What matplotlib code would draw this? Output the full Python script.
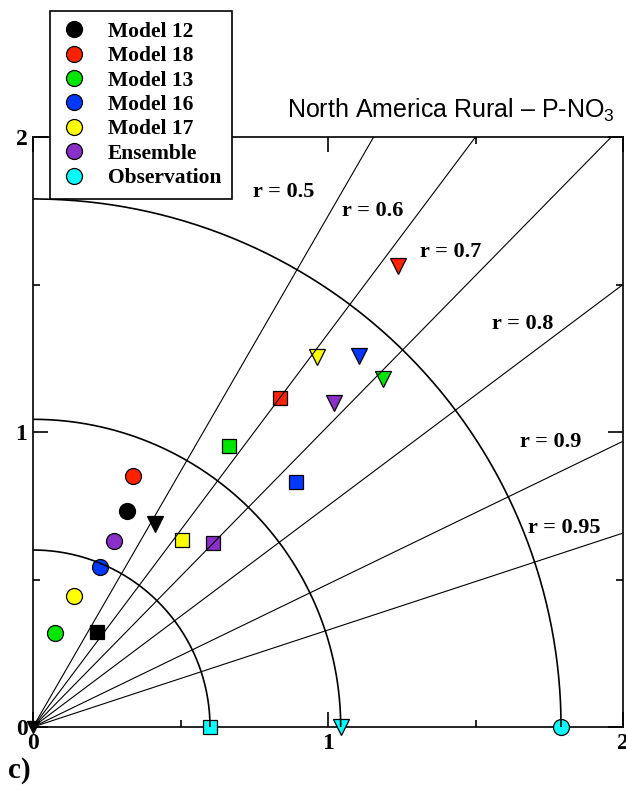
import numpy as np
import matplotlib
matplotlib.use("Agg")
import matplotlib.pyplot as plt
from matplotlib.lines import Line2D

plt.rcParams['mathtext.fontset'] = 'custom'
plt.rcParams['mathtext.rm'] = 'Liberation Sans'
plt.rcParams['mathtext.default'] = 'rm'

# ---------------- data ----------------
models = ["Model 12", "Model 18", "Model 13", "Model 16", "Model 17", "Ensemble", "Observation"]
colors = ["#000000", "#ff2200", "#00e600", "#0038ff", "#ffff00", "#8b2fc9", "#00ffff"]

# circles (statistic set 1)
circ_x = [0.319, 0.340, 0.075, 0.227, 0.139, 0.273, 1.790]
circ_y = [0.733, 0.852, 0.319, 0.543, 0.445, 0.632, 0.0]
# squares (statistic set 2)
sq_x = [0.218, 0.836, 0.663, 0.893, 0.505, 0.609, 0.601]
sq_y = [0.323, 1.114, 0.951, 0.832, 0.635, 0.624, 0.0]
# down triangles (statistic set 3)
tri_x = [0.414, 1.236, 1.188, 1.104, 0.964, 1.019, 1.043]
tri_y = [0.689, 1.562, 1.178, 1.256, 1.253, 1.100, 0.0]

obs_std = [0.60, 1.043, 1.790]
corr_levels = [0.5, 0.6, 0.7, 0.8, 0.9, 0.95]
corr_labels = ["r = 0.5", "r = 0.6", "r = 0.7", "r = 0.8", "r = 0.9", "r = 0.95"]
corr_label_x = [0.85, 1.15, 1.415, 1.66, 1.755, 1.80]
corr_label_y = [1.815, 1.750, 1.610, 1.365, 0.967, 0.675]

tick_vals = [0, 1, 2]
tick_labels = ["0", "1", "2"]

# ---------------- figure ----------------
W, H = 626, 789
fig = plt.figure(figsize=(W / 100, H / 100), dpi=100)
ax = fig.add_axes([33 / W, 1 - 727 / H, 590 / W, 590 / H])
ax.set_xlim(0, 2)
ax.set_ylim(0, 2)

serif = "Liberation Serif"

# markers
for i in range(len(models)):
    ax.plot(circ_x[i], circ_y[i], 'o', ms=11.5, mfc=colors[i], mec='black', mew=0.9,
            zorder=3, clip_on=False)
    ax.plot(sq_x[i], sq_y[i], 's', ms=10.5, mfc=colors[i], mec='black', mew=0.9,
            zorder=3, clip_on=False)
    ax.plot(tri_x[i], tri_y[i], 'v', ms=11, mfc=colors[i], mec='black', mew=0.9,
            zorder=3, clip_on=False)
# marker at origin
ax.plot(0, 0, 'v', ms=8, mfc='black', mec='black', zorder=3, clip_on=False)

# arcs of observed std
theta = np.linspace(0, np.pi / 2, 200)
for s in obs_std:
    ax.plot(s * np.cos(theta), s * np.sin(theta), color='black', lw=1.2, zorder=4)

# correlation rays
for r in corr_levels:
    a = np.arccos(r)
    ax.plot([0, 3 * np.cos(a)], [0, 3 * np.sin(a)], color='black', lw=0.8, zorder=4)

for lab, x, y in zip(corr_labels, corr_label_x, corr_label_y):
    ax.text(x, y, lab, family=serif, weight='bold', fontsize=16, ha='center', va='center',
            zorder=5)

# ticks
ax.set_xticks(tick_vals)
ax.set_xticklabels(tick_labels)
ax.set_yticks(tick_vals)
ax.set_yticklabels(tick_labels)
ax.set_xticks([0.5, 1.5], minor=True)
ax.set_yticks([0.5, 1.5], minor=True)
ax.tick_params(which='both', direction='in', top=True, right=True, width=1.2)
ax.tick_params(which='major', length=11, pad=4)
ax.tick_params(which='minor', length=5)
for lab in ax.get_xticklabels() + ax.get_yticklabels():
    lab.set_family(serif)
    lab.set_weight('bold')
    lab.set_fontsize(17)
for sp in ax.spines.values():
    sp.set_linewidth(1.2)

# title
fig.text(615 / W, 1 - 118 / H, r"North America Rural – P-NO$_3$", family="Liberation Sans",
         fontsize=18, ha='right', va='baseline')

# panel label
fig.text(8 / W, 1 - 770 / H, "c)", family=serif, weight='bold', fontsize=21,
         ha='left', va='center')

# legend
handles = [Line2D([], [], ls='none', marker='o', ms=11.5, mfc=c, mec='black', mew=0.9)
           for c in colors]
leg = ax.legend(handles, models, loc='upper left', bbox_to_anchor=(50 / W, 1 - 11 / H),
                bbox_transform=fig.transFigure, borderaxespad=0, frameon=True,
                fancybox=False, framealpha=1, edgecolor='black', handlelength=1.2,
                handletextpad=1.0, labelspacing=0.2, borderpad=0.5,
                prop={'family': serif, 'weight': 'bold', 'size': 15.5})
leg.get_frame().set_linewidth(1.2)
leg.set_zorder(10)

fig.savefig("out.png", dpi=100)
